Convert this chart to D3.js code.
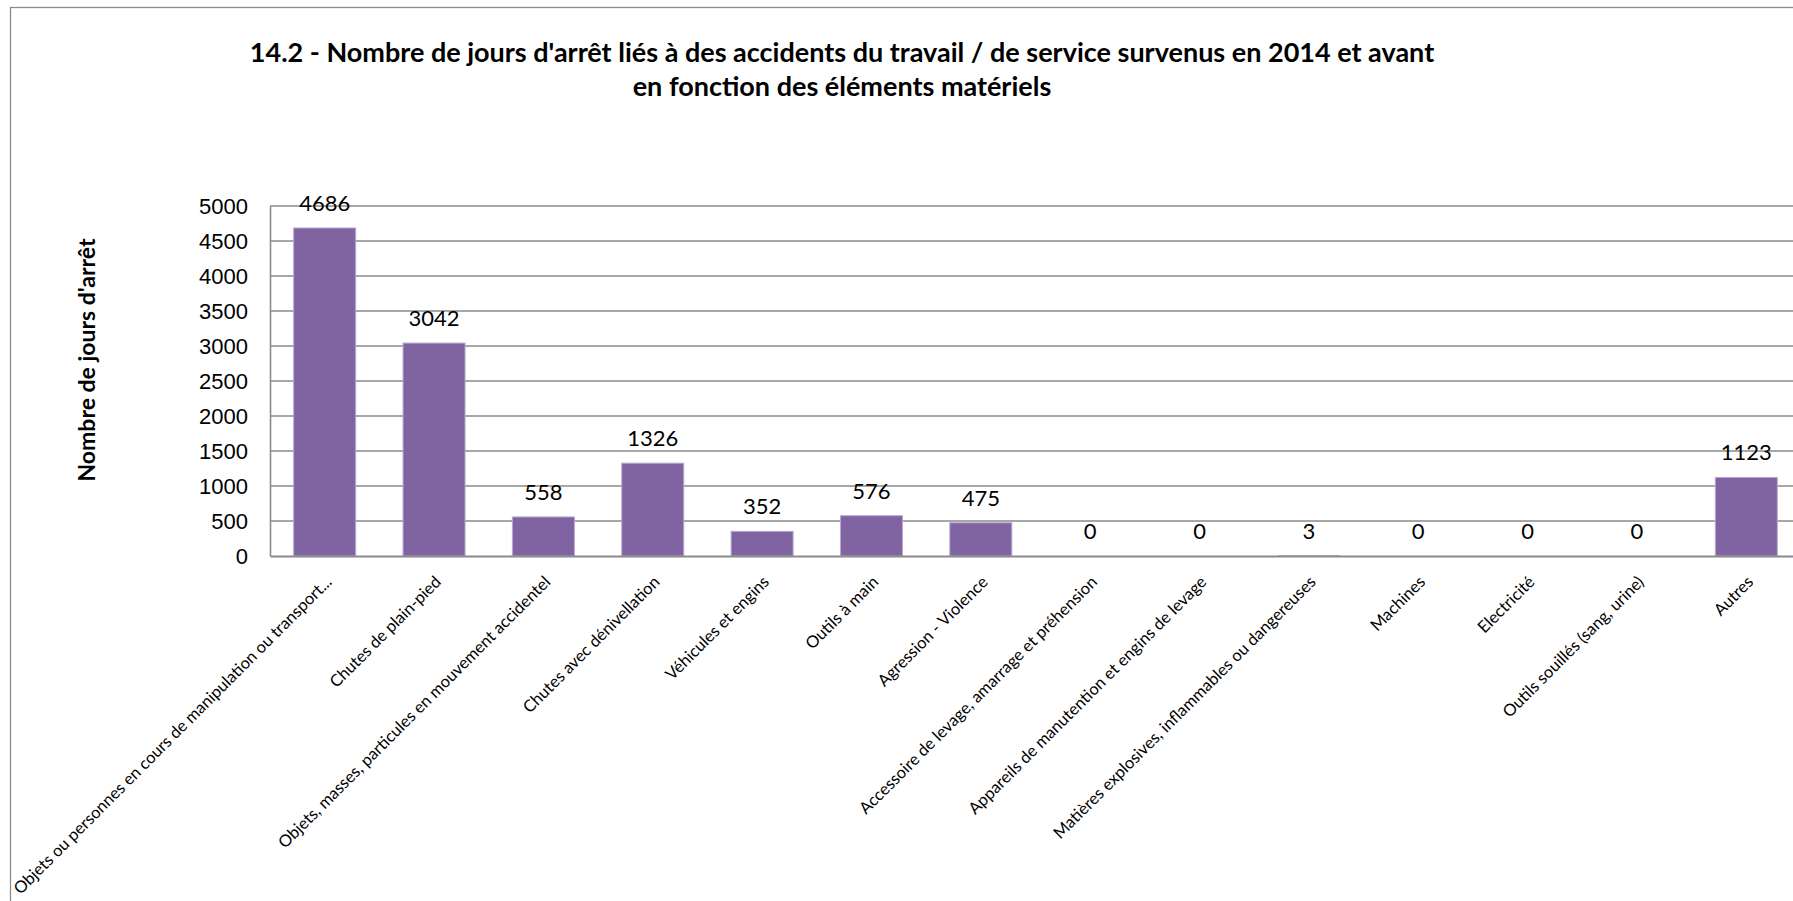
<!DOCTYPE html>
<meta charset="utf-8">
<style>
	body { margin: 0; background: #fff; }
	svg { display: block; font-family: Lato, "Open Sans", sans-serif; }
	.grid line { stroke: #8a8a8a; stroke-width: 1.3; }
	.axis path, .axis line { stroke: #8a8a8a; }
	.bar { fill: #8064a2; stroke: #b9a9d0; stroke-width: 1; }
	.value { font-size: 22px; fill: #000; text-anchor: middle; }
	.tick-label { font-size: 22px; fill: #000; }
	.cat-label { font-size: 16.5px; fill: #000; }
	.title { font-size: 27px; font-weight: bold; text-anchor: middle; }
	.ytitle { font-size: 23px; font-weight: bold; text-anchor: middle; }
</style>
<body>
<div id="chart"></div>
<script src="https://d3js.org/d3.v7.min.js"></script>
<script>
	// data
	const categories = [
		"Objets ou personnes en cours de manipulation ou transport...",
		"Chutes de plain-pied",
		"Objets, masses, particules en mouvement accidentel",
		"Chutes avec dénivellation",
		"Véhicules et engins",
		"Outils à main",
		"Agression - Violence",
		"Accessoire de levage, amarrage et préhension",
		"Appareils de manutention et engins de levage",
		"Matières explosives, inflammables ou dangereuses",
		"Machines",
		"Electricité",
		"Outils souillés (sang, urine)",
		"Autres"
	];
	const values = [4686, 3042, 558, 1326, 352, 576, 475, 0, 0, 3, 0, 0, 0, 1123];
	const yTicks = [0, 500, 1000, 1500, 2000, 2500, 3000, 3500, 4000, 4500, 5000];
	const titleLines = [
		"14.2 - Nombre de jours d'arrêt liés à des accidents du travail / de service survenus en 2014 et avant",
		"en fonction des éléments matériels"
	];
	const yTitle = "Nombre de jours d'arrêt";

	const width = 1793;
	const height = 901;
	const plot = { left: 270, top: 206, bottom: 556, right: 1801 };

	const svg = d3.select("#chart").append("svg")
		.attr("width", width)
		.attr("height", height);

	// outer chart border (runs off the right / bottom of the picture)
	svg.append("rect")
		.attr("x", 10.5).attr("y", 7.5)
		.attr("width", width + 20).attr("height", height + 20)
		.attr("fill", "none")
		.attr("stroke", "#8c8c8c")
		.attr("stroke-width", 1.3);

	const x = d3.scaleBand()
		.domain(categories)
		.range([plot.left, plot.right])
		.paddingInner(0.433)
		.paddingOuter(0.2165);

	const y = d3.scaleLinear()
		.domain([0, 5000])
		.range([plot.bottom, plot.top]);

	// gridlines
	svg.append("g").attr("class", "grid")
		.selectAll("line")
		.data(yTicks.filter(d => d > 0))
		.join("line")
		.attr("x1", plot.left).attr("x2", plot.right)
		.attr("y1", d => y(d)).attr("y2", d => y(d));

	// y axis
	const yAxis = svg.append("g").attr("class", "axis")
		.attr("transform", `translate(${plot.left},0)`)
		.call(d3.axisLeft(y).tickValues(yTicks).tickSize(0).tickPadding(22).tickFormat(d3.format("d")));
	yAxis.select(".domain").attr("stroke-width", 1.6);
	yAxis.selectAll("text")
		.attr("class", "tick-label")
		.attr("font-family", null).attr("font-size", null)
		.attr("dy", "0.36em");

	// bars
	svg.append("g")
		.selectAll("rect")
		.data(values)
		.join("rect")
		.attr("class", "bar")
		.attr("x", (d, i) => x(categories[i]))
		.attr("width", x.bandwidth())
		.attr("y", d => y(d))
		.attr("height", d => y(0) - y(d));

	// x axis
	const xAxis = svg.append("g").attr("class", "axis")
		.attr("transform", `translate(0,${plot.bottom})`)
		.call(d3.axisBottom(x).tickSize(0).tickFormat(""));
	xAxis.select(".domain").attr("stroke-width", 2);

	// category labels at -45°
	svg.append("g")
		.selectAll("text")
		.data(categories)
		.join("text")
		.attr("class", "cat-label")
		.attr("text-anchor", "end")
		.attr("transform", d => `translate(${x(d) + x.bandwidth() / 2 + 8},${plot.bottom + 27}) rotate(-45)`)
		.text(d => d);

	// value labels
	svg.append("g")
		.selectAll("text")
		.data(values)
		.join("text")
		.attr("class", "value")
		.attr("x", (d, i) => x(categories[i]) + x.bandwidth() / 2)
		.attr("y", d => y(d) - 17)
		.text(d => d);

	// title
	svg.append("g")
		.selectAll("text")
		.data(titleLines)
		.join("text")
		.attr("class", "title")
		.attr("x", 842)
		.attr("y", (d, i) => 62 + i * 34)
		.text(d => d);

	// y axis title
	svg.append("text")
		.attr("class", "ytitle")
		.attr("transform", "translate(95,360) rotate(-90)")
		.text(yTitle);
</script>
</body>
